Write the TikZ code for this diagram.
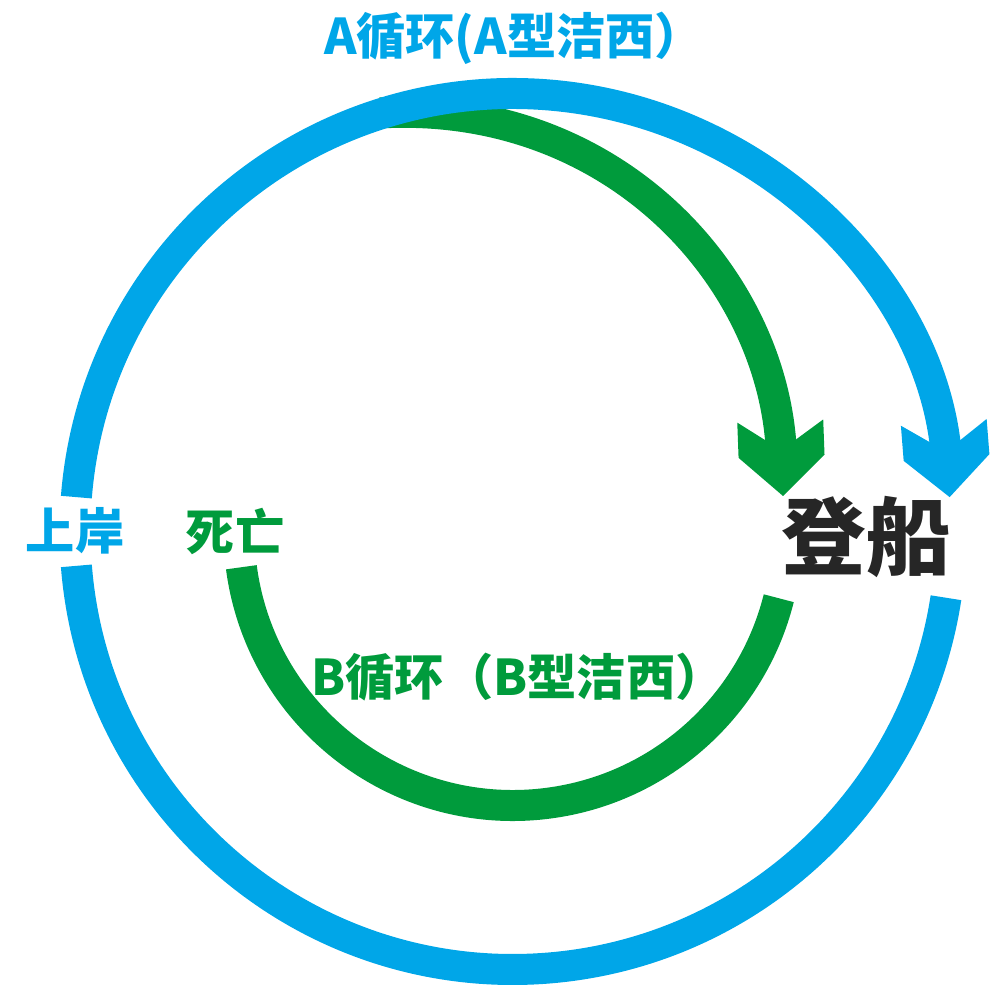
\documentclass[tikz,border=0pt]{standalone}
\usepackage{fontspec}
\newfontfamily\cjk{Noto Sans CJK SC}
\usetikzlibrary{arrows.meta,calc}

\definecolor{ablue}{HTML}{00A6E8}
\definecolor{bgreen}{HTML}{009B3C}

% open chevron tip, filled
\pgfdeclarearrow{
  name = Chevron,
  parameters = {\the\pgfarrowlength,\the\pgfarrowwidth},
  setup code = {
    \pgfarrowssettipend{0pt}
    \pgfarrowssetlineend{-.55\pgfarrowlength}
    \pgfarrowssetbackend{-\pgfarrowlength}
    \pgfarrowssavethe\pgfarrowlength
    \pgfarrowssavethe\pgfarrowwidth
  },
  drawing code = {
    \pgfpathmoveto{\pgfpointorigin}
    \pgfpathlineto{\pgfqpoint{-.53\pgfarrowlength}{.5\pgfarrowwidth}}
    \pgfpathlineto{\pgfqpoint{-\pgfarrowlength}{.5\pgfarrowwidth}}
    \pgfpathlineto{\pgfqpoint{-.61\pgfarrowlength}{0pt}}
    \pgfpathlineto{\pgfqpoint{-\pgfarrowlength}{-.5\pgfarrowwidth}}
    \pgfpathlineto{\pgfqpoint{-.53\pgfarrowlength}{-.5\pgfarrowwidth}}
    \pgfpathclose
    \pgfusepathqfill
  },
  defaults = {length = 7.5mm, width = 8.6mm}
}

\begin{document}
\begin{tikzpicture}[node distance=1.6cm]

        \tikzstyle{loopline} = [line width=3.1mm, line cap=butt]
        \tikzstyle{txt} = [font=\cjk\bfseries\fontsize{14pt}{14pt}\selectfont, inner sep=1pt]
        \tikzstyle{big} = [font=\cjk\bfseries\fontsize{24pt}{24pt}\selectfont]

        \useasboundingbox (0,0) rectangle (10,10);
        \coordinate (c) at (5.13,4.685);
        \coordinate (gstart) at (3.80,8.87);
        \coordinate (gend) at (7.83,5.04);

        % green arrow under the blue ring
        \draw [loopline, bgreen, -{Chevron}] (gstart) .. controls (6.15,9.00) and (7.75,7.20) .. (gend);

        \draw [loopline, ablue, -{Chevron}] ($(c)+(175.5:4.38)$) arc [start angle=175.5, end angle=4.5, radius=4.38];
        \draw [loopline, ablue] ($(c)+(184.5:4.38)$) arc [start angle=184.5, end angle=351.3, radius=4.38];
        \draw [loopline, bgreen] ($(c)+(187.5:2.74)$) arc [start angle=187.5, end angle=345.9, radius=2.74];

        \node [txt, ablue] (shangan) at (0.75,4.69) {上岸};
        \node [txt, bgreen, right of=shangan] (siwang) {死亡};
        \node [txt, ablue] (acycle) at (5.14,9.62) {A循环(A型洁西）};
        \node [txt, bgreen] (bcycle) at (5.18,3.23) {B循环（B型洁西）};
        \node [txt, big, black!85] (dengchuan) at (8.66,4.63) {登船};

\end{tikzpicture}
\end{document}
